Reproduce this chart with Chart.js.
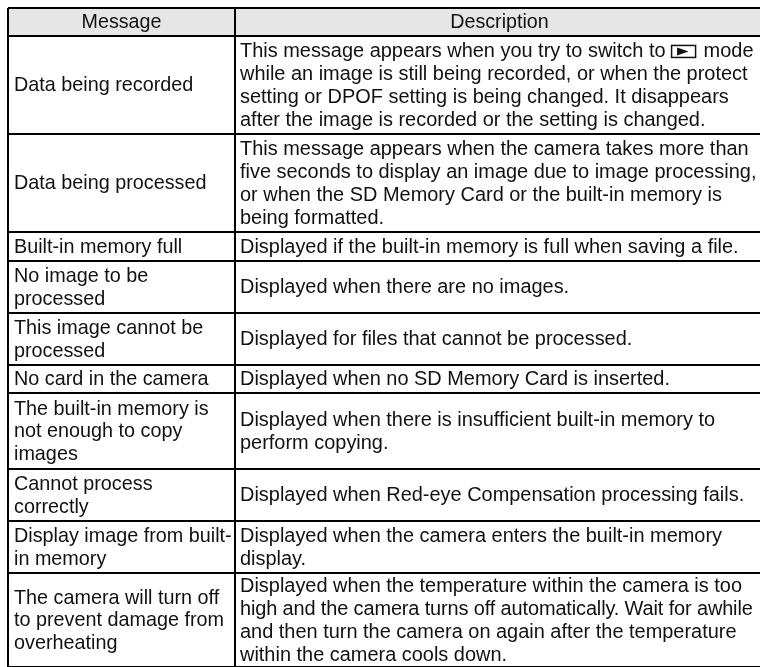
<!DOCTYPE html>
<html>
<head>
<meta charset="utf-8">
<title>Messages</title>
<script src="https://cdn.jsdelivr.net/npm/chart.js@4/dist/chart.umd.js"></script>
<style>
  html, body { margin: 0; padding: 0; background: #fff; }
  canvas { display: block; }
</style>
</head>
<body>
<canvas id="table" width="760" height="667"></canvas>
<script>
const headers = ["Message", "Description"];
const columnWidths = [227, 529];
const rowHeights = [28, 98, 98, 29, 52, 52, 28, 76, 52, 52, 94];

const messages = [
  ["Data being recorded"],
  ["Data being processed"],
  ["Built-in memory full"],
  ["No image to be", "processed"],
  ["This image cannot be", "processed"],
  ["No card in the camera"],
  ["The built-in memory is", "not enough to copy", "images"],
  ["Cannot process", "correctly"],
  ["Display image from built-", "in memory"],
  ["The camera will turn off", "to prevent damage from", "overheating"]
];

const descriptions = [
  ["This message appears when you try to switch to {play} mode",
   "while an image is still being recorded, or when the protect",
   "setting or DPOF setting is being changed. It disappears",
   "after the image is recorded or the setting is changed."],
  ["This message appears when the camera takes more than",
   "five seconds to display an image due to image processing,",
   "or when the SD Memory Card or the built-in memory is",
   "being formatted."],
  ["Displayed if the built-in memory is full when saving a file."],
  ["Displayed when there are no images."],
  ["Displayed for files that cannot be processed."],
  ["Displayed when no SD Memory Card is inserted."],
  ["Displayed when there is insufficient built-in memory to",
   "perform copying."],
  ["Displayed when Red-eye Compensation processing fails."],
  ["Displayed when the camera enters the built-in memory",
   "display."],
  ["Displayed when the temperature within the camera is too",
   "high and the camera turns off automatically. Wait for awhile",
   "and then turn the camera on again after the temperature",
   "within the camera cools down."]
];

function runningTotal(list) {
  let sum = 0;
  return [0].concat(list.map(function (v) { return sum += v; }));
}

const xEdges = runningTotal(columnWidths);
const yEdges = runningTotal(rowHeights);

const HEADER_FONT = '19.7px "Liberation Sans"';
const MESSAGE_FONT = '19.8px "Liberation Sans"';
const DESCRIPTION_FONT = '19.95px "Liberation Sans"';
const LINE_HEIGHT = 22.7;
const INK = "#111";

function drawLine(ctx, text, x, y) {
  const parts = text.split("{play}");
  // this line is set tighter in the original
  ctx.letterSpacing = text.indexOf("Wait for awhile") >= 0 ? "-0.13px" : "0px";
  ctx.fillText(parts[0], x, y);
  if (parts.length < 2) return;
  const left = x + ctx.measureText(parts[0]).width + 0.5;
  // playback icon, a small box with a triangle in it
  ctx.lineWidth = 1.5;
  ctx.strokeStyle = INK;
  ctx.strokeRect(left, y - 6.5, 24, 12);
  ctx.beginPath();
  ctx.moveTo(left + 5.5, y - 4.5);
  ctx.lineTo(left + 17, y - 0.5);
  ctx.lineTo(left + 5.5, y + 3.5);
  ctx.closePath();
  ctx.fill();
  ctx.fillText(parts[1], left + 26.5, y);
}

const tableText = {
  id: "tableText",
  afterDraw(chart) {
    const ctx = chart.ctx;
    const x = chart.scales.x;
    const y = chart.scales.y;
    ctx.save();
    ctx.fillStyle = INK;
    ctx.textBaseline = "middle";

    ctx.font = HEADER_FONT;
    ctx.textAlign = "center";
    headers.forEach(function (h, i) {
      const cx = (x.getPixelForValue(xEdges[i]) + x.getPixelForValue(xEdges[i + 1])) / 2;
      ctx.fillText(h, cx, y.getPixelForValue(yEdges[1] / 2) + 1);
    });

    ctx.textAlign = "left";
    messages.forEach(function (lines, r) {
      const cy = y.getPixelForValue((yEdges[r + 1] + yEdges[r + 2]) / 2);
      ctx.font = MESSAGE_FONT;
      lines.forEach(function (l, i) {
        drawLine(ctx, l, x.getPixelForValue(xEdges[0]) + 6, cy + (i - (lines.length - 1) / 2) * LINE_HEIGHT + 1);
      });
      const desc = descriptions[r];
      ctx.font = DESCRIPTION_FONT;
      desc.forEach(function (l, i) {
        drawLine(ctx, l, x.getPixelForValue(xEdges[1]) + 5, cy + (i - (desc.length - 1) / 2) * LINE_HEIGHT + 1);
      });
    });
    ctx.restore();
  }
};

new Chart(document.getElementById("table"), {
  type: "line",
  data: {
    datasets: [{
      // grey header band
      data: [{ x: xEdges[0], y: yEdges[1] }, { x: xEdges[2], y: yEdges[1] }],
      fill: { value: 0 },
      backgroundColor: "#e6e6e6",
      borderWidth: 0,
      pointRadius: 0
    }]
  },
  options: {
    responsive: false,
    animation: false,
    layout: { padding: { left: 8, top: 8 } },
    plugins: { legend: { display: false }, tooltip: { enabled: false } },
    scales: {
      x: {
        type: "linear",
        min: 0,
        max: 752,
        afterBuildTicks(axis) { axis.ticks = xEdges.map(function (v) { return { value: v }; }); },
        ticks: { display: false },
        border: { display: false },
        grid: { color: "#000", lineWidth: 2, drawTicks: false, z: 1 }
      },
      y: {
        type: "linear",
        reverse: true,
        min: 0,
        max: 659,
        afterBuildTicks(axis) { axis.ticks = yEdges.map(function (v) { return { value: v }; }); },
        ticks: { display: false },
        border: { display: false },
        grid: { color: "#000", lineWidth: 2, drawTicks: false, z: 1 }
      }
    }
  },
  plugins: [tableText]
});
</script>
</body>
</html>
